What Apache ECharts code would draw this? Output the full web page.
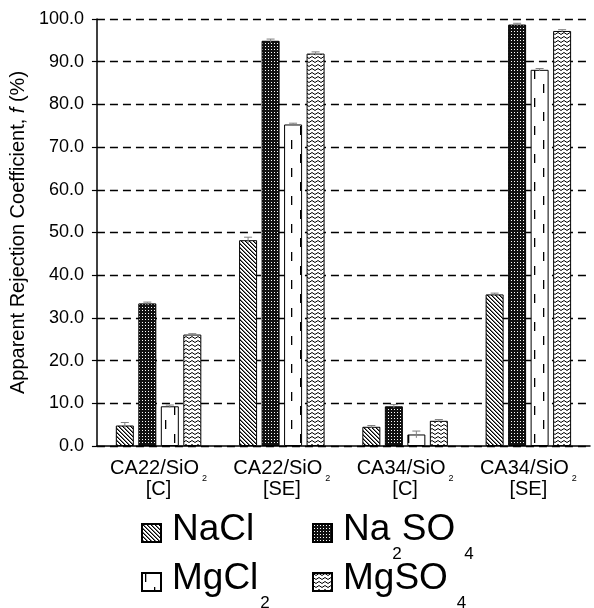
<!DOCTYPE html>
<html><head><meta charset="utf-8">
<script src="https://cdn.jsdelivr.net/npm/echarts@6/dist/echarts.min.js"></script>
<style>html,body{margin:0;padding:0;background:#fff}#c{width:594px;height:608px}</style>
</head><body><div id="c"></div>
<script>
const categories = ['CA22/SiO2 [C]', 'CA22/SiO2 [SE]', 'CA34/SiO2 [C]', 'CA34/SiO2 [SE]'];
const yTicks = [0, 10, 20, 30, 40, 50, 60, 70, 80, 90, 100];
const saltNames = ['NaCl', 'Na2SO4', 'MgCl2', 'MgSO4'];
const valNaCl   = [4.8, 48.2, 4.5, 35.5];
const valNa2SO4 = [33.4, 94.9, 9.3, 98.7];
const valMgCl2  = [9.3, 75.3, 2.7, 88.1];
const valMgSO4  = [26.1, 91.9, 5.9, 97.2];
const errNaCl   = [0.7, 0.7, 0.3, 0.3];
const errNa2SO4 = [0.3, 0.4, 0.4, 0.3];
const errMgCl2  = [0.3, 0.3, 0.8, 0.3];
const errMgSO4  = [0.2, 0.4, 0.3, 0.3];

function tile(w, h, draw) {
  const c = document.createElement('canvas'); c.width = w; c.height = h;
  const g = c.getContext('2d'); g.fillStyle = '#fff'; g.fillRect(0, 0, w, h); draw(g); return c;
}
const patNaCl = tile(4, 4, g => { for (let i = 0; i < 4; i++) { g.fillStyle = '#000'; g.fillRect(i, i, 1, 1); g.fillStyle = '#777'; g.fillRect((i + 1) % 4, i, 1, 1); } });
const patNa2SO4 = tile(3, 3, g => { g.fillStyle = '#111'; g.fillRect(0, 0, 3, 3); g.fillStyle = '#fff'; g.fillRect(1, 1, 1, 1); });
const patMgCl2 = tile(18, 28, g => { g.fillStyle = '#000'; g.fillRect(3, 0, 1.3, 9); g.fillRect(12, 14, 1.3, 9); });
const patMgSO4 = tile(6, 4, g => { g.strokeStyle = '#000'; g.lineWidth = 1; g.beginPath(); g.moveTo(0, 0.5); g.lineTo(3, 2.5); g.lineTo(6, 0.5); g.stroke(); });
const patterns = [patNaCl, patNa2SO4, patMgCl2, patMgSO4];
const values = [valNaCl, valNa2SO4, valMgCl2, valMgSO4];
const errors = [errNaCl, errNa2SO4, errMgCl2, errMgSO4];

const BAR_W = 18, BAR_GAP = 4.5;
function legendText(n) {
  const parts = n.split(/(\d)/).filter(p => p !== '');
  return parts.map((p, i) => {
    if (/\d/.test(p)) return (/O$/.test(parts[i - 1]) ? '{e|' : '{s|') + p + '}';
    return (i === 0 ? '{f|' : '{a|') + p + '}';
  }).join('');
}

const series = [];
saltNames.forEach((name, k) => {
  series.push({
    name: name, type: 'bar', data: values[k], barWidth: BAR_W, barGap: (BAR_GAP / BAR_W * 100) + '%',
    itemStyle: { color: { image: patterns[k], repeat: 'repeat' }, borderColor: '#000', borderWidth: 1 },
    emphasis: { disabled: true }, z: 2
  });
});
saltNames.forEach((name, k) => {
  series.push({
    type: 'custom', name: name + '_err', z: 5,
    data: values[k].map((v, i) => [i, v, errors[k][i]]),
    renderItem: function (params, api) {
      const i = api.value(0), v = api.value(1), e = api.value(2);
      const off = (k - 1.5) * (BAR_W + BAR_GAP);
      const top = api.coord([i, v + e]), bot = api.coord([i, v - e]);
      const x = top[0] + off;
      const st = { stroke: '#808080', lineWidth: 1 };
      return { type: 'group', children: [
        { type: 'line', shape: { x1: x, y1: top[1], x2: x, y2: bot[1] }, style: st },
        { type: 'line', shape: { x1: x - 4, y1: top[1], x2: x + 4, y2: top[1] }, style: st }
      ]};
    }
  });
});

const FONT = 'Liberation Sans';
const legendRich = {
  f: { fontSize: 37, fontFamily: FONT, color: '#000', padding: [0, 0, 0, 6], verticalAlign: 'top', lineHeight: 44 },
  a: { fontSize: 37, fontFamily: FONT, color: '#000', verticalAlign: 'top', lineHeight: 44 },
  s: { fontSize: 17, fontFamily: FONT, color: '#000', verticalAlign: 'top', padding: [35, 0, 0, 2], lineHeight: 17 },
  e: { fontSize: 17, fontFamily: FONT, color: '#000', verticalAlign: 'top', padding: [35, 0, 0, 9], lineHeight: 17 }
};
function mkLegend(name, left, top) {
  return { data: [name], left: left, top: top, itemWidth: 19, itemHeight: 18, icon: 'rect', selectedMode: false,
    formatter: legendText, textStyle: { rich: legendRich }, padding: 0 };
}

const chart = echarts.init(document.getElementById('c'));
chart.setOption({
  animation: false,
  backgroundColor: '#fff',
  grid: { left: 93, right: 4, top: 19, bottom: 162, containLabel: false },
  legend: [mkLegend('NaCl', 141, 511), mkLegend('Na2SO4', 312, 511), mkLegend('MgCl2', 141, 560), mkLegend('MgSO4', 312, 560)],
  xAxis: {
    type: 'category', data: categories,
    axisLine: { lineStyle: { color: '#000', width: 1.5 } }, axisTick: { show: false },
    axisLabel: {
      margin: 12, interval: 0,
      formatter: v => { const m = v.match(/^(.*)2 (\[.*\])$/); return '{a|' + m[1] + '}{s|2}\n{b|' + m[2] + '}'; },
      rich: {
        a: { fontSize: 20, fontFamily: FONT, color: '#000', lineHeight: 21 },
        b: { fontSize: 20, fontFamily: FONT, color: '#000', lineHeight: 21 },
        s: { fontSize: 9, fontFamily: FONT, color: '#000', padding: [16, 0, 0, 3], lineHeight: 9, verticalAlign: 'top' }
      }
    }
  },
  yAxis: {
    type: 'value', min: yTicks[0], max: yTicks[yTicks.length - 1], interval: yTicks[1] - yTicks[0],
    name: 'Apparent Rejection Coefficient, {i|f} (%)', nameLocation: 'middle', nameGap: 61,
    nameTextStyle: { fontSize: 20, fontFamily: FONT, color: '#000',
      rich: { i: { fontSize: 20, fontStyle: 'italic', fontFamily: FONT, color: '#000' } } },
    axisLine: { show: true, lineStyle: { color: '#000', width: 1.5 } },
    axisTick: { show: true, length: 5, lineStyle: { color: '#000', width: 1.2 } },
    axisLabel: { margin: 13, fontSize: 18, fontFamily: FONT, color: '#000', formatter: v => v.toFixed(1) },
    splitLine: { show: true, lineStyle: { color: '#000', type: [8, 5], width: 1.3 } }
  },
  series: series
});
</script></body></html>
